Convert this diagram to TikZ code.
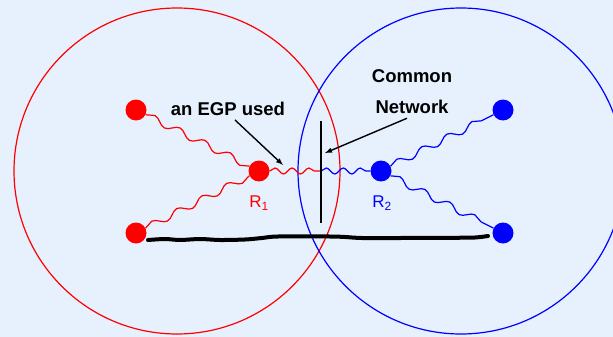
\documentclass[tikz,border=0pt]{standalone}
\usepackage{fontspec}
\setmainfont{Liberation Sans}
\usetikzlibrary{positioning}
\usetikzlibrary{decorations.pathmorphing}
\definecolor{bgblue}{RGB}{231,241,253}

\begin{document}
\begin{tikzpicture}[x=1pt,y=-1pt,
  redrt/.style={circle,fill=red,inner sep=0pt,minimum size=21pt},
  bluert/.style={circle,fill=blue,inner sep=0pt,minimum size=21pt},
  wave/.style={decorate,decoration={snake,amplitude=3.5pt,segment length=28pt},line width=1.2pt},
  shortwave/.style={decorate,decoration={snake,amplitude=3pt,segment length=17pt},line width=1.2pt},
  txt/.style={font=\fontsize{18.5}{31}\selectfont\bfseries,inner sep=0pt,align=center},
  rlabel/.style={font=\fontsize{17}{20}\selectfont,inner sep=0pt},
  pointer/.style={-latex,line width=1.4pt}]
 \fill[bgblue] (0,0) rectangle (613,337);
 \useasboundingbox (0,0) rectangle (613,337);
 % the two networks
 \draw[red,line width=1.2pt] (177,171) circle (163);
 \draw[blue,line width=1.2pt] (461,171) circle (163);
 % routers
 \node[redrt] (tl) at (136,110) {};
 \node[redrt] (bl) at (136,233) {};
 \node[redrt] (r1) at (259,171) {};
 \node[bluert] (r2) at (381,171) {};
 \node[bluert] (tr) at (503,110) {};
 \node[bluert] (br) at (503,233) {};
 \coordinate (mid) at (321,171);
 \node[rlabel,red] (r1lab) at (259,203) {R\textsubscript{1}};
 \node[rlabel,blue] (r2lab) at (382,203) {R\textsubscript{2}};
 % wavy links
 \draw[red,wave] (tl) -- (r1);
 \draw[red,wave] (bl) -- (r1);
 \draw[red,shortwave] (r1) -- (mid);
 \draw[blue,shortwave] (mid) -- (r2);
 \draw[blue,wave] (r2) -- (tr);
 \draw[blue,wave] (r2) -- (br);
 % common network
 \coordinate (cntop) at (321,121);
 \coordinate (cnbot) at (321,223);
 \draw[line width=1.1pt] (cntop) -- (cnbot);
 \node[txt] (egp) at (228,109) {an EGP used};
 \node[txt] (cn) at (412,92) {Common\\Network};
 \coordinate (egptip) at (283,165);
 \coordinate (cntip) at (325,153);
 \draw[pointer] ([xshift=7pt,yshift=-4pt]egp.south) -- (egptip);
 \draw[pointer] ([xshift=-5pt,yshift=-4pt]cn.south) -- (cntip);
 % hand drawn line
 \draw[line width=4pt,line cap=round] plot[smooth] coordinates {(148,240) (165,239) (180,240) (200,239) (220,240) (245,239.5) (262,238) (278,236.5) (330,236.5) (345,237) (362,238) (400,238) (450,237.8) (475,237.5) (488,236)};
\end{tikzpicture}
\end{document}
